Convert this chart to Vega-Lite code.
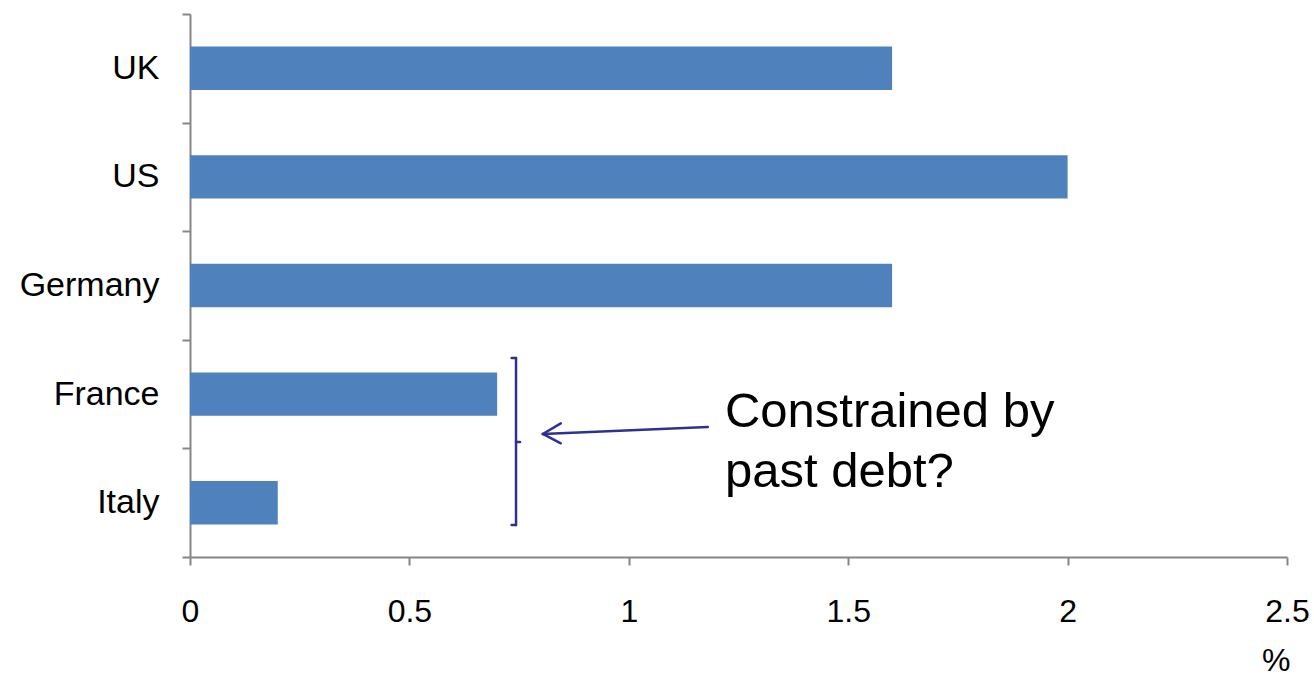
{
  "$schema": "https://vega.github.io/schema/vega-lite/v6.json",
  "width": 1097,
  "height": 543,
  "autosize": "none",
  "padding": {"left": 190, "top": 14, "right": 27, "bottom": 119},
  "background": "white",
  "config": {
    "view": {"stroke": null},
    "axis": {
      "labelFont": "Liberation Sans",
      "titleFont": "Liberation Sans",
      "domainColor": "#868686",
      "tickColor": "#868686",
      "domainWidth": 2,
      "tickWidth": 2,
      "grid": false,
      "labelColor": "black",
      "titleColor": "black"
    }
  },
  "layer": [
    {
      "data": {
        "values": [
          {"country": "UK", "value": 1.6},
          {"country": "US", "value": 2.0},
          {"country": "Germany", "value": 1.6},
          {"country": "France", "value": 0.7},
          {"country": "Italy", "value": 0.2}
        ]
      },
      "mark": {"type": "bar", "color": "#4F81BD", "height": {"band": 0.4}},
      "encoding": {
        "y": {
          "field": "country",
          "type": "nominal",
          "sort": null,
          "scale": {"paddingInner": 0, "paddingOuter": 0},
          "axis": {
            "title": null,
            "labelFontSize": 34,
            "tickBand": "extent",
            "tickSize": 8,
            "labelPadding": 23
          }
        },
        "x": {
          "field": "value",
          "type": "quantitative",
          "scale": {"domain": [0, 2.5], "nice": false},
          "axis": {
            "values": [0, 0.5, 1, 1.5, 2, 2.5],
            "labelExpr": "'' + datum.value",
            "labelFontSize": 32,
            "tickSize": 8,
            "labelBaseline": "alphabetic",
            "labelPadding": 56,
            "labelFlush": false,
            "labelOverlap": false,
            "title": "%",
            "titleFontSize": 32,
            "titleFontWeight": "normal",
            "titleX": 1100,
            "titleY": 113,
            "titleAlign": "right",
            "titleBaseline": "alphabetic"
          }
        }
      }
    },
    {
      "data": {
        "values": [
          {"x": 0.743, "y": 1.832, "x2": 0.743, "y2": 0.295},
          {"x": 0.733, "y": 1.832, "x2": 0.743, "y2": 1.832},
          {"x": 0.733, "y": 0.295, "x2": 0.743, "y2": 0.295},
          {"x": 0.743, "y": 1.059, "x2": 0.752, "y2": 1.059},
          {"x": 1.18, "y": 1.197, "x2": 0.804, "y2": 1.133},
          {"x": 0.804, "y": 1.133, "x2": 0.845, "y2": 1.231},
          {"x": 0.804, "y": 1.133, "x2": 0.845, "y2": 1.047}
        ]
      },
      "mark": {"type": "rule", "color": "#2E3192", "strokeWidth": 2.5, "strokeCap": "round"},
      "encoding": {
        "x": {"field": "x", "type": "quantitative"},
        "x2": {"field": "x2"},
        "y": {"field": "y", "type": "quantitative", "scale": {"domain": [0, 5], "nice": false, "zero": false}, "axis": null},
        "y2": {"field": "y2"}
      }
    },
    {
      "data": {
        "values": [
          {"label": "Constrained by", "x": 1.219, "y": 1.2},
          {"label": "past debt?", "x": 1.219, "y": 0.64}
        ]
      },
      "mark": {
        "type": "text",
        "align": "left",
        "baseline": "alphabetic",
        "fontSize": 49,
        "font": "Liberation Sans",
        "color": "black"
      },
      "encoding": {
        "x": {"field": "x", "type": "quantitative"},
        "y": {"field": "y", "type": "quantitative", "scale": {"domain": [0, 5], "nice": false, "zero": false}, "axis": null},
        "text": {"field": "label"}
      }
    }
  ],
  "resolve": {"scale": {"y": "independent"}, "axis": {"y": "independent"}}
}
